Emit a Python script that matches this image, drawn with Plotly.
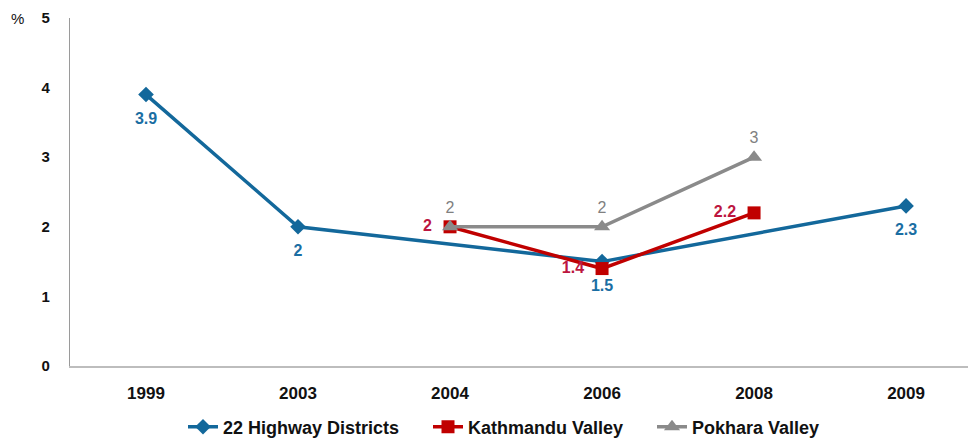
import plotly.graph_objects as go

years = ["1999", "2003", "2004", "2006", "2008", "2009"]
highway = [3.9, 2.0, None, 1.5, None, 2.3]
kathmandu = [None, None, 2.0, 1.4, 2.2, None]
pokhara = [None, None, 2.0, 2.0, 3.0, None]
y_ticks = [0, 1, 2, 3, 4, 5]

NB = "\u00a0"

def labels(vals, suffix=""):
    return [("" if v is None else f"{v:g}" + suffix) for v in vals]

BLUE = "#13689b"
RED = "#c00000"
GRAY = "#8a8a8a"
FONT = "Liberation Sans"

fig = go.Figure()
fig.add_trace(go.Scatter(
    x=years, y=highway, name="22 Highway Districts", mode="lines+markers",
    connectgaps=True, line=dict(color=BLUE, width=3.5),
    marker=dict(symbol="diamond", size=12, color=BLUE), legend="legend",
))
# value labels for the blue series, pushed a little further below the markers
fig.add_trace(go.Scatter(
    x=years, y=highway, mode="markers+text", showlegend=False, hoverinfo="skip",
    marker=dict(size=26, opacity=0), text=labels(highway), textposition="bottom center",
    textfont=dict(family=FONT, size=16, color="#1a6ea3", weight="bold"),
))
fig.add_trace(go.Scatter(
    x=years, y=kathmandu, name="Kathmandu Valley", mode="lines+markers+text",
    connectgaps=True, line=dict(color=RED, width=3.5),
    marker=dict(symbol="square", size=13, color=RED),
    text=labels(kathmandu, NB * 2), textposition="middle left",
    textfont=dict(family=FONT, size=16, color="#bc163f", weight="bold"), legend="legend2",
))
fig.add_trace(go.Scatter(
    x=years, y=pokhara, name="Pokhara Valley", mode="lines+markers+text",
    connectgaps=True, line=dict(color=GRAY, width=3.5),
    marker=dict(symbol="triangle-up", size=14, color=GRAY),
    text=labels(pokhara), textposition="top center",
    textfont=dict(family=FONT, size=16, color="#808080"), legend="legend3",
))

W, H = 968, 431  # page body has an 8px margin; figure shifted accordingly
LEG_FONT = dict(family=FONT, size=18, color="#111111", weight="bold")

def leg(px):
    return dict(orientation="h", x=(px - 8) / W, xanchor="left", xref="container",
                y=1 - (427 - 8) / H, yanchor="middle", yref="container",
                font=LEG_FONT, itemwidth=30, bgcolor="rgba(0,0,0,0)")

fig.update_layout(
    width=W, height=H,
    margin=dict(l=62, r=0, t=10, b=73, autoexpand=False),
    plot_bgcolor="white", paper_bgcolor="white",
    font=dict(family=FONT, color="#111111"),
    showlegend=True,
    legend=leg(183), legend2=leg(428), legend3=leg(652),
    xaxis=dict(type="category", categoryorder="array", categoryarray=years,
               range=[-0.5, 5.46], showgrid=False, showline=True, linecolor="#bdbdbd",
               linewidth=1.5, ticks="", zeroline=False, automargin=False,
               tickfont=dict(family=FONT, size=17, color="#111111", weight="bold"),
               ticklabelstandoff=11),
    yaxis=dict(range=[0, 5], tickvals=y_ticks, showgrid=False, showline=True,
               linecolor="#9a9a9a", linewidth=1.2, ticks="", zeroline=False, automargin=False,
               tickfont=dict(family=FONT, size=15, color="#111111", weight="bold"),
               ticklabelstandoff=16),
    annotations=[dict(text="%", x=(9 - 62) / 906, y=1.0, xref="paper", yref="paper",
                      xanchor="center", yanchor="middle",
                      showarrow=False, font=dict(family=FONT, size=15, color="#111111"))],
)
fig.write_html("out.html")
